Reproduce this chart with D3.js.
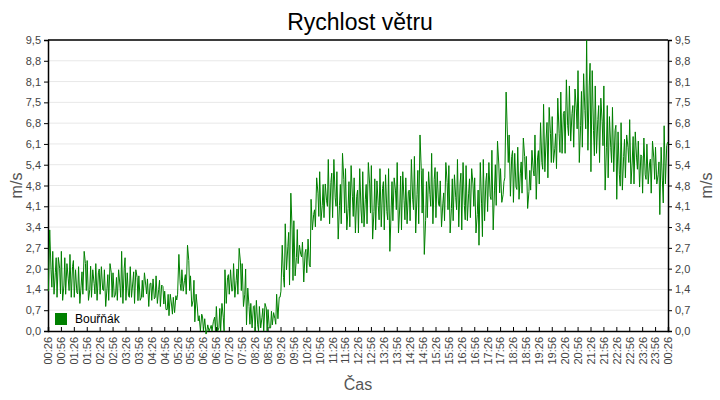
<!DOCTYPE html>
<html><head><meta charset="utf-8">
<script src="https://cdn.jsdelivr.net/npm/d3@7"></script>
<style>body{margin:0;background:#fff}text{font-family:"Liberation Sans",Arial,sans-serif}</style>
</head><body><svg id="chart" width="720" height="400"></svg>
<script>
// min / max wind speed per 10-minute bin, starting at 00:26
var lows = [
  1.3,1.2,1.1,1.0,1.2,1.1, 1.1,0.9,1.2,1.0,1.1,1.0, 1.2,0.8,1.0,1.1,1.0,0.9,
  1.0,1.1,0.9,1.0,1.1,0.8, 1.0,0.9,0.8,0.7,0.5,0.6, 1.2,1.3,1.2,0.8,0.3,0.0,
  0.0,0.0,0.0,0.0,0.0,0.9, 1.2,1.1,1.2,0.8,0.2,0.1, 0.0,0.1,0.0,0.1,0.2,0.4,
  1.3,2.0,1.5,1.8,2.2,1.6, 1.9,3.3,3.4,3.6,3.7,3.5, 3.7,3.0,3.5,3.3,3.4,3.2,
  3.2,3.4,3.5,3.0,3.3,3.4, 3.3,2.6,3.6,3.2,3.3,3.5, 3.6,3.2,3.5,2.5,3.7,3.5,
  3.7,3.4,3.6,3.2,3.6,3.4, 3.3,3.6,3.7,3.2,2.8,3.6, 3.9,3.3,4.1,4.2,5.0,4.4,
  4.2,4.3,4.5,4.0,4.6,4.3, 4.8,5.2,5.0,5.5,5.3,5.8, 5.8,6.2,6.0,5.5,6.0,5.9,
  5.2,5.8,5.5,4.6,5.0,5.2, 4.3,4.6,5.0,4.8,4.8,4.7, 4.5,4.8,4.5,4.8,3.8,4.8
];
var highs = [
  3.3,2.6,2.4,2.6,2.2,2.5, 2.0,2.1,2.6,2.3,2.0,2.2, 2.1,2.0,2.2,1.9,2.0,2.6,
  1.9,2.1,2.0,1.8,1.9,1.7, 1.7,1.8,1.5,1.3,1.2,1.1, 2.5,2.0,2.8,1.8,1.2,0.5,
  0.4,0.2,0.3,0.8,0.9,2.0, 2.0,2.2,2.7,2.2,1.4,0.9, 1.0,0.8,0.9,0.7,0.6,1.2,
  2.8,3.5,4.5,3.6,2.8,2.9, 3.0,4.3,5.0,5.2,4.8,5.6, 5.6,5.2,5.8,5.3,5.4,5.0,
  5.3,5.2,5.5,5.4,4.9,5.3, 5.1,5.3,5.0,5.5,5.2,5.0, 5.6,5.7,6.4,5.3,5.2,5.8,
  5.2,4.9,5.5,5.4,5.1,5.6, 5.5,5.4,5.3,5.0,5.5,5.6, 5.5,5.9,6.2,5.3,7.8,6.4,
  5.8,6.0,6.3,5.7,5.9,6.4, 6.8,7.4,7.3,7.0,7.6,7.8, 8.2,8.0,7.9,8.5,8.4,9.5,
  8.5,8.0,7.6,8.0,7.0,7.3, 6.5,6.8,6.4,6.9,6.5,6.2, 6.3,6.1,6.2,6.0,6.0,6.7
];
var yTicks = [0,1,2,3,4,5,6,7,8,9,10,11,12,13,14].map(function(i){ return i*9.5/14; });
var seriesName = "Bouřňák";

var margin = {top: 40, right: 52, bottom: 69, left: 48};
var W = 720, H = 400;
var width = W - margin.left - margin.right;
var height = H - margin.top - margin.bottom;
var svg = d3.select("#chart");

var start = new Date(2020, 0, 1, 0, 26);
var end = new Date(2020, 0, 2, 0, 26);
var x = d3.scaleTime().domain([start, end]).range([0, width]);
var y = d3.scaleLinear().domain([0, 9.5]).range([height, 0]);

// zigzag between min and max of each bin
var pts = [];
lows.forEach(function(lo, i){
  var t0 = +start + i*600000;
  pts.push({t: new Date(t0 + 60000), v: i%2 ? highs[i] : lo});
  pts.push({t: new Date(t0 + 240000), v: i%2 ? lo : highs[i]});
  pts.push({t: new Date(t0 + 420000), v: (lo + highs[i]) / 2 + (i%3 - 1) * 0.3});
  pts.push({t: new Date(t0 + 540000), v: i%2 ? highs[i]*0.92 : lo*1.1});
});

svg.append("text").attr("x", W/2).attr("y", 30).attr("text-anchor", "middle")
  .attr("font-size", 23).attr("fill", "#000").text("Rychlost větru");

var g = svg.append("g").attr("transform", `translate(${margin.left},${margin.top})`);

g.selectAll("line.grid").data(yTicks.slice(1)).enter().append("line")
  .attr("x1", 0).attr("x2", width).attr("y1", d => y(d)).attr("y2", d => y(d))
  .attr("stroke", "#e8e8e8");

var fmt = d => d3.format(".1f")(d).replace(".", ",");
var yl = g.append("g").call(d3.axisLeft(y).tickValues(yTicks).tickFormat(fmt).tickSize(4));
var yr = g.append("g").attr("transform", `translate(${width},0)`)
  .call(d3.axisRight(y).tickValues(yTicks).tickFormat(fmt).tickSize(4));

var xTicks = d3.range(49).map(i => new Date(+start + i*1800000));
var xa = g.append("g").attr("transform", `translate(0,${height})`)
  .call(d3.axisBottom(x).tickValues(xTicks).tickFormat(d3.timeFormat("%H:%M")).tickSize(-4));
xa.selectAll("text").attr("transform", "rotate(-90)").attr("text-anchor", "end")
  .attr("x", -6).attr("y", 0).attr("dy", "0.35em");

[yl, yr, xa].forEach(function(a){
  a.select(".domain").attr("stroke", "#000").attr("stroke-width", 1.5);
  a.selectAll(".tick line").attr("stroke", "#000");
  a.selectAll("text").attr("font-size", 11).attr("fill", "#444");
});
g.append("line").attr("x1", 0).attr("x2", width).attr("y1", 0).attr("y2", 0)
  .attr("stroke", "#000").attr("stroke-width", 1.5);

var line = d3.line().x(d => x(d.t)).y(d => y(d.v));
g.append("path").datum(pts).attr("d", line).attr("fill", "none")
  .attr("stroke", "#008000").attr("stroke-width", 1);

g.append("rect").attr("x", 7).attr("y", height - 18).attr("width", 12).attr("height", 12)
  .attr("fill", "#008000");
g.append("text").attr("x", 27).attr("y", height - 8).attr("font-size", 12)
  .attr("fill", "#000").text(seriesName);

svg.append("text").attr("transform", `translate(22,${margin.top + height/2}) rotate(-90)`)
  .attr("text-anchor", "middle").attr("font-size", 16).attr("fill", "#555").text("m/s");
svg.append("text").attr("transform", `translate(712,${margin.top + height/2}) rotate(-90)`)
  .attr("text-anchor", "middle").attr("font-size", 16).attr("fill", "#555").text("m/s");
svg.append("text").attr("x", margin.left + width/2).attr("y", 390).attr("text-anchor", "middle")
  .attr("font-size", 16).attr("fill", "#555").text("Čas");
</script></body></html>
